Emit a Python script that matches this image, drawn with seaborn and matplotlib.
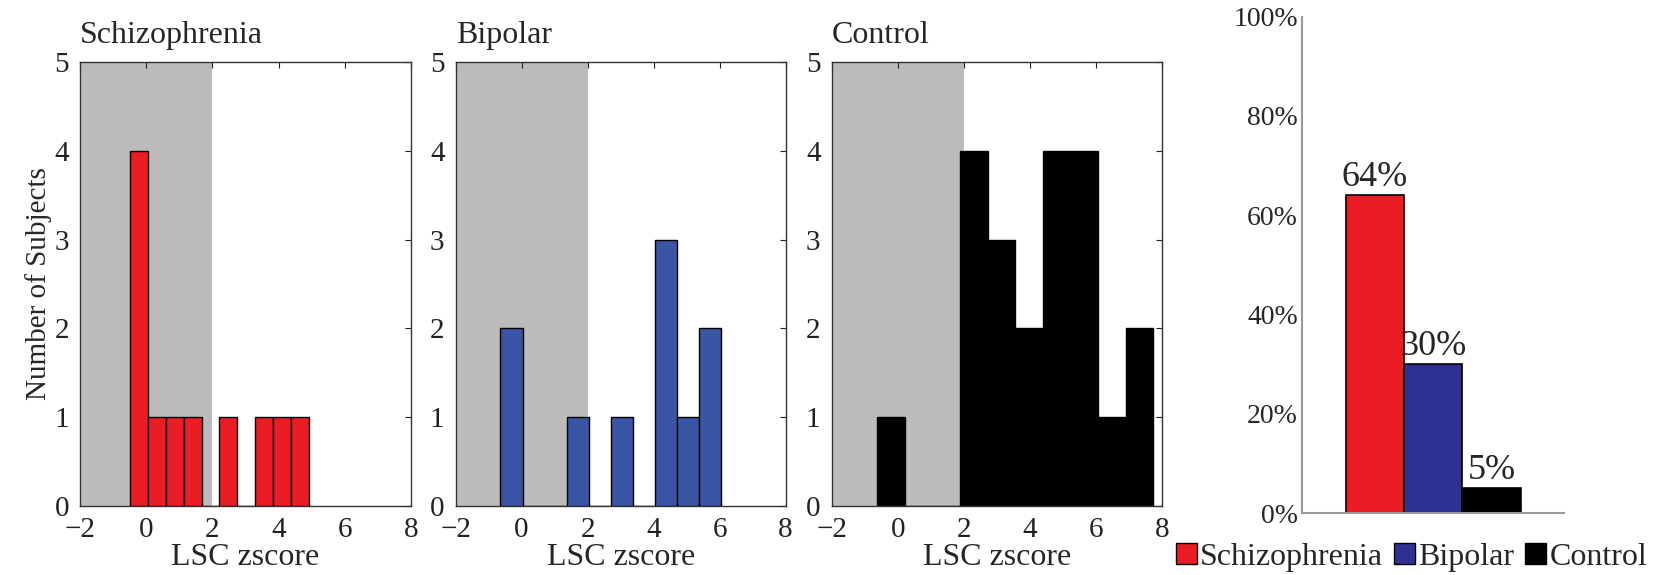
import matplotlib
matplotlib.use("Agg")
import matplotlib.pyplot as plt
import pandas as pd
import seaborn as sns
from matplotlib.patches import Patch

# histogram data: bin ranges and counts
SCHIZ_RANGE = (-0.49, 4.91)
SCHIZ_COUNTS = [4, 1, 1, 1, 0, 1, 0, 1, 1, 1]

BIPOLAR_RANGE = (-0.64, 6.05)
BIPOLAR_COUNTS = [2, 0, 0, 1, 0, 1, 0, 3, 1, 2]

CONTROL_RANGE = (-0.62, 7.75)
CONTROL_COUNTS = [1, 0, 0, 4, 3, 2, 4, 4, 1, 2]

GROUPS = ["Schizophrenia", "Bipolar", "Control"]
PERCENT_BELOW = [64, 30, 5]

HIST_COLORS = ["#ec1c24", "#3a55a5", "#000000"]
BAR_COLORS = ["#ec1c24", "#2e3192", "#000000"]
SHADE = "#bebbbd"
THRESHOLD = 2

N_BINS = 10

sns.set_theme(style="white")
plt.rcParams["font.family"] = ["Liberation Serif", "DejaVu Serif"]
plt.rcParams["axes.unicode_minus"] = True

fig = plt.figure(figsize=(16.61, 5.75), dpi=100)

hist_boxes = [
    [0.0482, 0.120, 0.1993, 0.772],
    [0.2743, 0.120, 0.1987, 0.772],
    [0.5007, 0.120, 0.1987, 0.772],
]
hist_data = [
    (SCHIZ_RANGE, SCHIZ_COUNTS),
    (BIPOLAR_RANGE, BIPOLAR_COUNTS),
    (CONTROL_RANGE, CONTROL_COUNTS),
]


def bin_centres(value_range, n_bins):
    lo, hi = value_range
    step = (hi - lo) / n_bins
    return [lo + step * (i + 0.5) for i in range(n_bins)]


for i, (box, (rng, counts)) in enumerate(zip(hist_boxes, hist_data)):
    ax = fig.add_axes(box)
    ax.axvspan(-2, THRESHOLD, color=SHADE, zorder=0, lw=0)
    sns.histplot(
        x=bin_centres(rng, N_BINS),
        weights=counts,
        bins=N_BINS,
        binrange=rng,
        color=HIST_COLORS[i],
        edgecolor="black",
        linewidth=1,
        alpha=1,
        ax=ax,
    )
    ax.set_xlim(-2, 8)
    ax.set_ylim(0, 5)
    ax.set_xticks([-2, 0, 2, 4, 6, 8])
    ax.set_yticks([0, 1, 2, 3, 4, 5])
    ax.tick_params(direction="in", top=True, right=True, length=4,
                   width=0.8, labelsize=21, pad=8, colors="#222222")
    for sp in ax.spines.values():
        sp.set_color("#333333")
        sp.set_linewidth(1)
    ax.set_xlabel("LSC zscore", fontsize=23, labelpad=0)
    if i == 0:
        ax.set_ylabel("Number of Subjects", fontsize=21, labelpad=2)
    else:
        ax.set_ylabel("")
    ax.set_title(GROUPS[i], loc="left", fontsize=23, pad=14)

# summary bar chart
bar_df = pd.DataFrame({"group": GROUPS, "percent": PERCENT_BELOW})
ax4 = fig.add_axes([0.7839, 0.1078, 0.1577, 0.8635])
sns.barplot(
    data=bar_df,
    x="group",
    y="percent",
    hue="group",
    palette=BAR_COLORS,
    saturation=1,
    width=1,
    edgecolor="black",
    linewidth=1.2,
    legend=False,
    ax=ax4,
)
for c in ax4.containers:
    ax4.bar_label(c, fmt="{:.0f}%", fontsize=26, padding=1)
ax4.set_xlim(-1.25, 3.24)
ax4.set_ylim(0, 100)
ax4.set_yticks([0, 20, 40, 60, 80, 100])
ax4.set_yticklabels([f"{v}%" for v in [0, 20, 40, 60, 80, 100]])
ax4.set_xticks([])
ax4.set_xlabel("")
ax4.set_ylabel("")
ax4.tick_params(axis="y", length=0, labelsize=20, pad=3)
sns.despine(ax=ax4)
for side in ["left", "bottom"]:
    ax4.spines[side].set_color("#999999")
    ax4.spines[side].set_linewidth(1.5)

handles = [Patch(facecolor=c, edgecolor="black", linewidth=1) for c in BAR_COLORS]
fig.legend(
    handles,
    GROUPS,
    loc="center",
    bbox_to_anchor=(0.8498, 0.0313),
    ncol=3,
    frameon=False,
    fontsize=23,
    handlelength=0.65,
    handleheight=0.65,
    handletextpad=0.1,
    columnspacing=0.35,
    borderpad=0,
)

fig.savefig("out.png", dpi=100)
